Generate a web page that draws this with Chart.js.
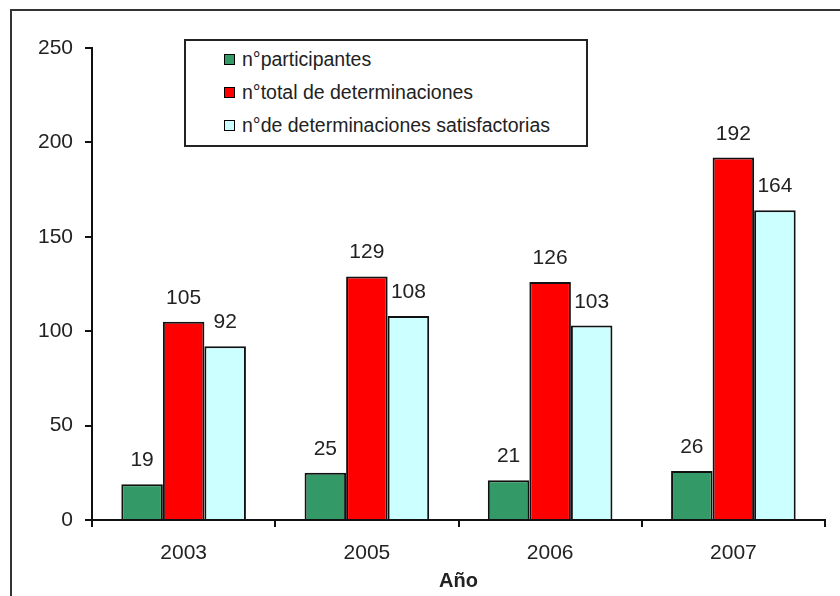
<!DOCTYPE html>
<html>
<head>
<meta charset="utf-8">
<script src="https://cdn.jsdelivr.net/npm/chart.js@4.4.0/dist/chart.umd.min.js"></script>
<style>
    body { margin: 0; background: #fff; font-family: "Liberation Sans", Arial, sans-serif; }
    #wrap { position: relative; width: 840px; height: 596px; }
    #frame { position: absolute; left: 10px; top: 9px; right: 0; bottom: 0; border-left: 2px solid #333; border-top: 2px solid #333; pointer-events: none; }
    #legend { position: absolute; left: 184px; top: 39px; width: 400px; height: 104px; border: 2px solid #222; background: #fff; }
    .item { position: absolute; left: 38px; height: 24px; line-height: 24px; font-size: 19.5px; color: #222; white-space: nowrap; }
    .item span { display: inline-block; width: 9px; height: 9px; border: 1px solid #000; margin-right: 7px; vertical-align: 1px; }
</style>
</head>
<body>
<div id="wrap">
    <canvas id="myChart" width="840" height="596"></canvas>
    <div id="legend"></div>
    <div id="frame"></div>
</div>
<script>
    // datos
    var anios = ['2003', '2005', '2006', '2007'];
    var participantes = [19, 25, 21, 26];
    var totalDeterminaciones = [105, 129, 126, 192];
    var determinacionesSatisf = [92, 108, 103, 164];

    var series = [
        { label: 'n°participantes', data: participantes, color: '#339966' },
        { label: 'n°total de determinaciones', data: totalDeterminaciones, color: '#ff0000' },
        { label: 'n°de determinaciones satisfactorias', data: determinacionesSatisf, color: '#ccffff' }
    ];

    var fuente = '"Liberation Sans", Arial, sans-serif';

    // leyenda en html
    var html = '';
    series.forEach(function (s, i) {
        html += '<div class="item" style="top:' + (6 + i * 33) + 'px"><span style="background:' + s.color + '"></span>' + s.label + '</div>';
    });
    document.getElementById('legend').innerHTML = html;

    // numeros encima de las barras
    var etiquetas = {
        id: 'etiquetas',
        afterDatasetsDraw: function (chart) {
            var ctx = chart.ctx;
            ctx.save();
            ctx.font = '21px ' + fuente;
            ctx.fillStyle = '#222';
            ctx.textAlign = 'center';
            ctx.textBaseline = 'alphabetic';
            chart.data.datasets.forEach(function (ds, i) {
                chart.getDatasetMeta(i).data.forEach(function (bar, j) {
                    ctx.fillText(ds.data[j], bar.x, bar.y - 18);
                });
            });
            ctx.restore();
        }
    };

    var ctx = document.getElementById('myChart').getContext('2d');

    new Chart(ctx, {
        type: 'bar',
        data: {
            labels: anios,
            datasets: series.map(function (s) {
                return {
                    label: s.label,
                    data: s.data,
                    backgroundColor: s.color,
                    borderColor: '#111',
                    borderWidth: 2
                };
            })
        },
        options: {
            responsive: false,
            animation: false,
            events: [],
            layout: { padding: { left: 0, top: 48, right: 15, bottom: 0 } },
            categoryPercentage: 0.68,
            barPercentage: 1.0,
            plugins: {
                legend: { display: false },
                tooltip: { enabled: false }
            },
            scales: {
                x: {
                    afterFit: function (scale) { scale.height = 76; },
                    grid: { display: true, drawOnChartArea: false, tickLength: 7, color: '#111', lineWidth: 2 },
                    border: { display: true, color: '#111', width: 2 },
                    ticks: { color: '#222', padding: 14, font: { family: fuente, size: 21 } },
                    title: {
                        display: true,
                        text: 'Año',
                        color: '#222',
                        padding: { top: 0, bottom: 3 },
                        font: { family: fuente, size: 20, weight: 'bold' }
                    }
                },
                y: {
                    min: 0,
                    max: 250,
                    afterFit: function (scale) { scale.width = 92; },
                    grid: { display: true, drawOnChartArea: false, tickLength: 7, color: '#111', lineWidth: 2 },
                    border: { display: true, color: '#111', width: 2 },
                    ticks: { stepSize: 50, color: '#222', padding: 12, font: { family: fuente, size: 21 } }
                }
            }
        },
        plugins: [etiquetas]
    });
</script>
</body>
</html>
